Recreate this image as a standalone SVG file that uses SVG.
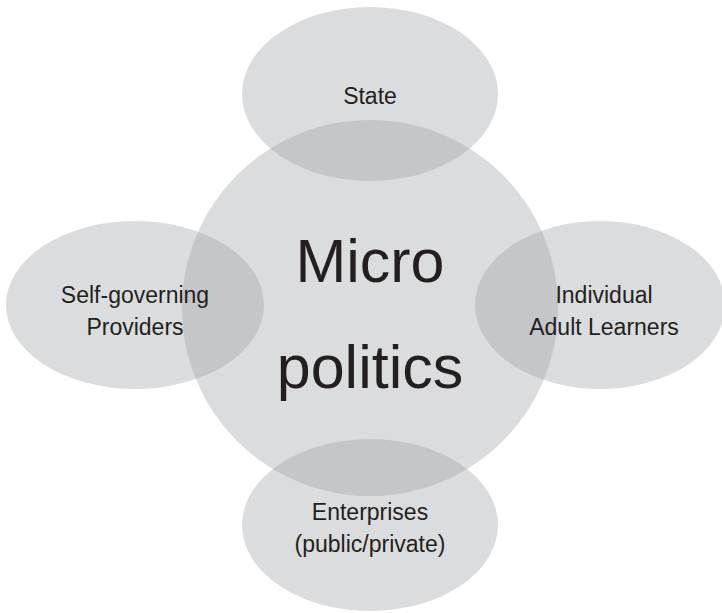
<svg xmlns="http://www.w3.org/2000/svg" width="722" height="613" viewBox="0 0 722 613">
<style>
.shape{fill:#9ea1a6;fill-opacity:0.37;stroke:none}
.lbl{font-family:"Liberation Sans",Arial,sans-serif;font-size:23px;fill:#231f20;text-anchor:middle}
.big{font-family:"Liberation Sans",Arial,sans-serif;font-size:61px;fill:#231f20;text-anchor:middle}
</style>
<rect width="722" height="613" fill="#ffffff"/>
<g id="center">
<circle class="shape" cx="370" cy="308" r="188"/>
<text class="big" x="370" y="282">Micro</text>
<text class="big" x="370" y="388">politics</text>
</g>
<g id="state">
<ellipse class="shape" cx="370" cy="94" rx="128" ry="87"/>
<text class="lbl" x="370" y="104">State</text>
</g>
<g id="self-governing">
<ellipse class="shape" cx="135" cy="305" rx="129" ry="84"/>
<text class="lbl" x="135" y="303">Self-governing</text>
<text class="lbl" x="135" y="335">Providers</text>
</g>
<g id="individual">
<ellipse class="shape" cx="600" cy="305" rx="125" ry="84"/>
<text class="lbl" x="604" y="303">Individual</text>
<text class="lbl" x="604" y="335">Adult Learners</text>
</g>
<g id="enterprises">
<ellipse class="shape" cx="370" cy="525" rx="128" ry="86"/>
<text class="lbl" x="370" y="520">Enterprises</text>
<text class="lbl" x="370" y="552">(public/private)</text>
</g>
<g id="connectors"></g>
</svg>
